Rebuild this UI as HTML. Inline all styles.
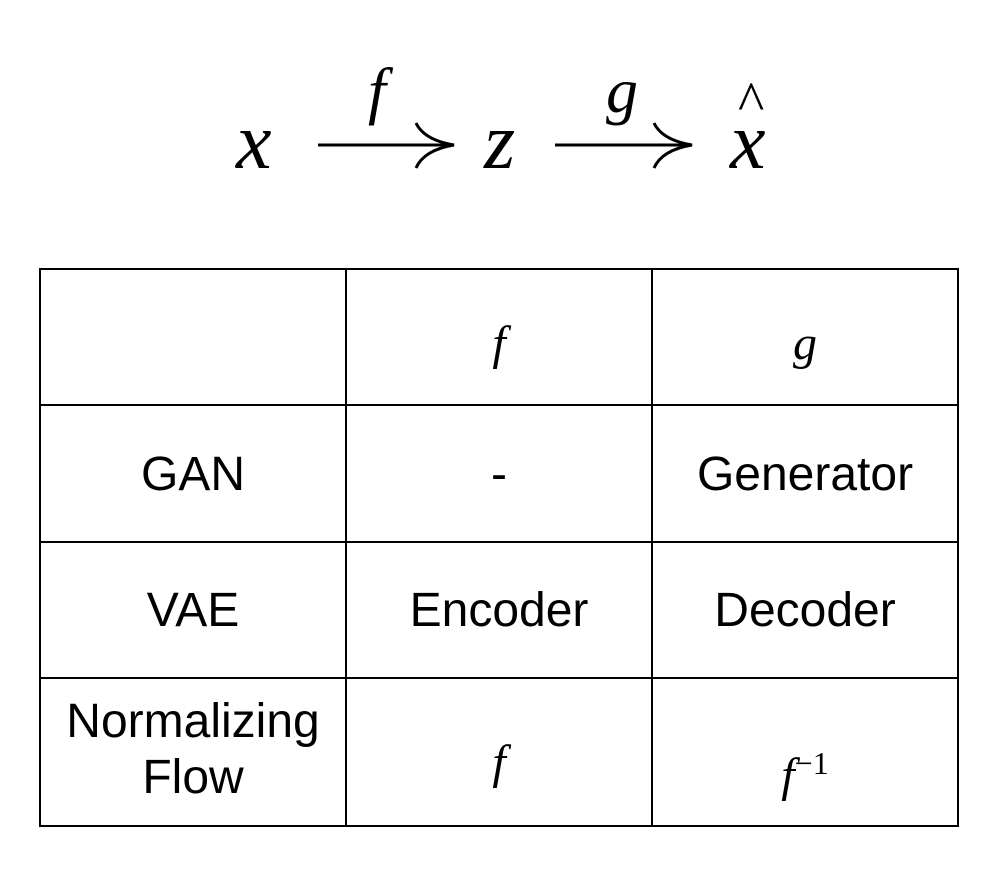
<!DOCTYPE html>
<html><head><style>
body{margin:0;background:#fff;width:1000px;height:878px;overflow:hidden;position:relative;font-family:"Liberation Sans",sans-serif}
.l{position:absolute;background:#000}
.t{position:absolute;font-size:48px;text-align:center;width:306px;line-height:56px}
.m{font-family:"Liberation Serif",serif;font-style:italic}
</style></head><body>
<svg width="1000" height="230" style="position:absolute;left:0;top:0">
<g font-family="Liberation Serif, serif" font-style="italic" fill="#000">
<text x="236" y="168" font-size="80">x</text>
<text x="368" y="112" font-size="64">f</text>
<text x="484" y="168" font-size="80">z</text>
<text x="606" y="112" font-size="64">g</text>
<text x="730" y="168" font-size="80">x</text>
<text x="738" y="120" font-size="56" font-style="normal">^</text>
</g>
<g stroke="#000" stroke-width="3" fill="none">
<line x1="318" y1="145" x2="452" y2="145"/>
<path d="M416 123 Q424 140 454 145 Q424 150 416 168"/>
<line x1="555" y1="145" x2="690" y2="145"/>
<path d="M654 123 Q662 140 692 145 Q662 150 654 168"/>
</g>
</svg>
<div class="l" style="left:39px;top:268px;width:920px;height:2px"></div>
<div class="l" style="left:39px;top:404px;width:920px;height:2px"></div>
<div class="l" style="left:39px;top:541px;width:920px;height:2px"></div>
<div class="l" style="left:39px;top:677px;width:920px;height:2px"></div>
<div class="l" style="left:39px;top:825px;width:920px;height:2px"></div>
<div class="l" style="left:39px;top:268px;width:2px;height:559px"></div>
<div class="l" style="left:345px;top:268px;width:2px;height:559px"></div>
<div class="l" style="left:651px;top:268px;width:2px;height:559px"></div>
<div class="l" style="left:957px;top:268px;width:2px;height:559px"></div>
<div class="t m" style="left:346px;top:316px">f</div>
<div class="t m" style="left:652px;top:316px">g</div>
<div class="t" style="left:40px;top:447px">GAN</div>
<div class="t" style="left:346px;top:447px">-</div>
<div class="t" style="left:652px;top:447px">Generator</div>
<div class="t" style="left:40px;top:583px">VAE</div>
<div class="t" style="left:346px;top:583px">Encoder</div>
<div class="t" style="left:652px;top:583px">Decoder</div>
<div class="t" style="left:40px;top:694px">Normalizing<br>Flow</div>
<div class="t m" style="left:346px;top:735px">f</div>
<div class="t m" style="left:652px;top:735px">f<sup style="font-style:normal;font-size:32px">−1</sup></div>
</body></html>
